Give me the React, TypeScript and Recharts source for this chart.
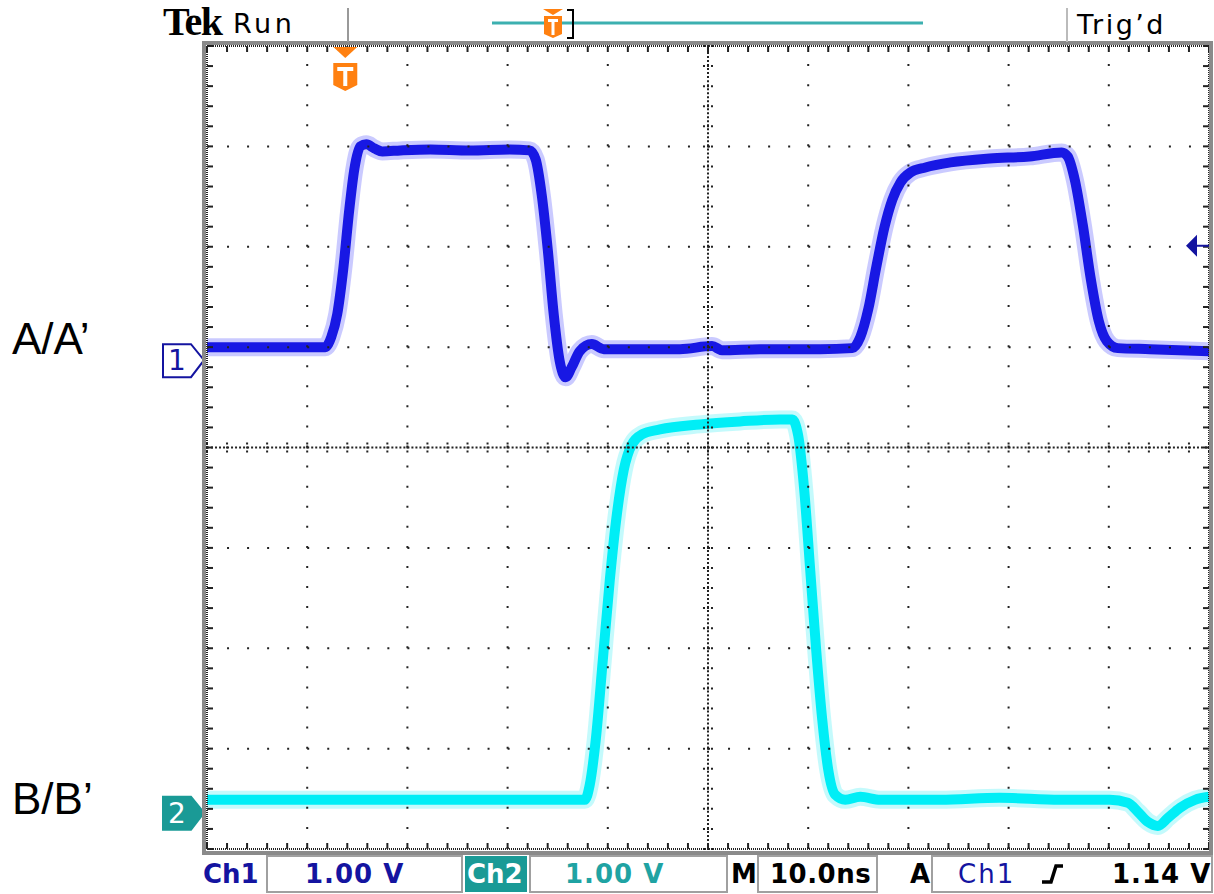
import React from "react";
import { LineChart, Line, XAxis, YAxis, ReferenceLine, ReferenceDot } from "recharts";

// time in ns (10 ns/div, screen centre = 0), voltages in V (1.00 V/div)
const ch1Time = [-50, -38.2, -37.6, -37.0, -36.4, -35.8, -35.3, -34.7, -34.1, -33.3, -32.5, -30.7, -27.7, -23.8, -19.8, -17.8, -17.2, -16.6, -16.0, -15.4, -14.8, -14.2, -13.6, -12.8, -11.6, -10.4, -7.8, -2.8, 0.4, 1.4, 5.2, 11.2, 14.4, 15.2, 16.0, 16.8, 17.6, 18.4, 19.2, 20.2, 21.7, 24.2, 28.1, 32.1, 35.3, 35.9, 36.6, 37.4, 38.2, 39.0, 39.8, 40.9, 44.1, 50];
const ch1Volts = [0.13, 0.13, 0.23, 0.46, 0.91, 1.50, 1.90, 2.13, 2.15, 2.11, 2.08, 2.09, 2.10, 2.09, 2.10, 2.09, 2.00, 1.65, 1.11, 0.46, -0.01, -0.17, -0.07, 0.09, 0.16, 0.11, 0.11, 0.11, 0.14, 0.10, 0.11, 0.11, 0.12, 0.23, 0.51, 0.93, 1.32, 1.60, 1.77, 1.87, 1.92, 1.97, 2.01, 2.03, 2.07, 2.03, 1.80, 1.35, 0.81, 0.39, 0.19, 0.12, 0.11, 0.09];
const ch2Time = [-50, -12.3, -11.8, -11.2, -10.5, -9.8, -9.1, -8.4, -7.6, -6.6, -4.8, -0.8, 3.2, 7.2, 8.4, 9.0, 9.6, 10.2, 10.8, 11.4, 12.0, 12.7, 13.7, 15.2, 17.2, 23.2, 29.1, 35.1, 40.1, 41.9, 42.9, 43.9, 44.9, 45.9, 47.1, 48.6, 50];
const ch2Volts = [0.13, 0.13, 0.28, 0.73, 1.52, 2.32, 2.97, 3.42, 3.67, 3.77, 3.82, 3.87, 3.90, 3.92, 3.92, 3.76, 3.22, 2.42, 1.62, 0.93, 0.43, 0.18, 0.13, 0.16, 0.13, 0.13, 0.15, 0.13, 0.13, 0.10, 0.01, -0.09, -0.13, -0.05, 0.05, 0.13, 0.16];

const CH1_GROUND_DIV = 0.87;
const CH2_GROUND_DIV = -3.64;
const TRIGGER_TIME = -36.2;
const TRIGGER_LEVEL = 1.14;

const timeDomain = [-50, 50];
const divDomain = [-4, 4];
const majorTimeLines = [-40, -30, -20, -10, 10, 20, 30, 40];
const majorDivLines = [-3, -2, -1, 1, 2, 3];

const minorTimes = Array.from({ length: 51 }, (_, i) => -50 + i * 2);
const minorDivs = Array.from({ length: 41 }, (_, i) => -4 + i * 0.2);

const ch1Data = ch1Time.map((t, i) => ({ t, v: CH1_GROUND_DIV + ch1Volts[i] }));
const ch2Data = ch2Time.map((t, i) => ({ t, v: CH2_GROUND_DIV + ch2Volts[i] }));

const BLUE = "#1818e4";
const BLUE_HALO = "#7a7aff";
const CYAN = "#00eef6";
const CYAN_HALO = "#8af6fa";
const NAVY = "#1414a0";
const TEAL = "#1a9a96";
const ORANGE = "#ff8010";
const GRID = "#222";

const TMarker = (p: any) => {
  const { cx, cy } = p;
  return (
    <g>
      <path d={`M${cx - 12},${cy + 1} L${cx + 12},${cy + 1} L${cx},${cy + 12} Z`} fill={ORANGE} />
      <path d={`M${cx - 12},${cy + 17} L${cx + 12},${cy + 17} L${cx + 12},${cy + 39} L${cx},${cy + 45} L${cx - 12},${cy + 39} Z`} fill={ORANGE} />
      <path d={`M${cx - 8},${cy + 21} L${cx + 8},${cy + 21} L${cx + 8},${cy + 25} L${cx + 2},${cy + 25} L${cx + 2},${cy + 40} L${cx - 2},${cy + 40} L${cx - 2},${cy + 25} L${cx - 8},${cy + 25} Z`} fill="#fff" />
    </g>
  );
};

const ChMarker = (p: any, label: string, filled: boolean) => {
  const { cx, cy } = p;
  const d = `M${cx - 44},${cy - 16} L${cx - 16},${cy - 16} L${cx - 3},${cy} L${cx - 16},${cy + 17} L${cx - 44},${cy + 17} Z`;
  return (
    <g>
      <path d={d} fill={filled ? TEAL : "#fff"} stroke={filled ? TEAL : NAVY} strokeWidth={2} />
      <text x={cx - 30} y={cy + 10} textAnchor="middle" fontFamily="DejaVu Sans" fontSize={28} fill={filled ? "#fff" : NAVY}>
        {label}
      </text>
    </g>
  );
};

const LevelArrow = (p: any) => {
  const { cx, cy } = p;
  return (
    <g>
      <path d={`M${cx - 23},${cy} L${cx - 12},${cy - 11} L${cx - 12},${cy + 11} Z`} fill={NAVY} />
      <line x1={cx - 13} y1={cy} x2={cx} y2={cy} stroke={NAVY} strokeWidth={2} />
    </g>
  );
};

export default function App() {
  const barFont = "DejaVu Sans";
  return (
    <div style={{ position: "absolute", left: 0, top: 0, width: 1214, height: 894, background: "#fff", overflow: "hidden" }}>
      <div style={{ position: "absolute", left: 0, top: 0 }}>
        <LineChart width={1214} height={894} margin={{ top: 46, right: 5, bottom: 45, left: 207 }}>
          <XAxis dataKey="t" type="number" domain={timeDomain} hide allowDataOverflow />
          <YAxis type="number" domain={divDomain} hide allowDataOverflow />
          <Line data={ch1Data} dataKey="v" type="monotone" stroke={BLUE_HALO} strokeOpacity={0.4} strokeWidth={18} dot={false} isAnimationActive={false} />
          <Line data={ch1Data} dataKey="v" type="monotone" stroke={BLUE} strokeWidth={10} dot={false} isAnimationActive={false} />
          <Line data={ch2Data} dataKey="v" type="monotone" stroke={CYAN_HALO} strokeOpacity={0.5} strokeWidth={18} dot={false} isAnimationActive={false} />
          <Line data={ch2Data} dataKey="v" type="monotone" stroke={CYAN} strokeWidth={10} dot={false} isAnimationActive={false} />

          {majorTimeLines.map((t) => (
            <ReferenceLine key={"vx" + t} x={t} stroke={GRID} strokeWidth={2} strokeDasharray="2 18.075" />
          ))}
          {majorDivLines.map((d) => (
            <ReferenceLine key={"hy" + d} y={d} stroke={GRID} strokeWidth={2} strokeDasharray="2 18.04" />
          ))}
          <ReferenceLine x={0} stroke={GRID} strokeWidth={2} strokeDasharray="2 2.015" />
          <ReferenceLine y={0} stroke={GRID} strokeWidth={2} strokeDasharray="2 2.008" />
          <ReferenceLine x={-50} stroke={GRID} strokeWidth={2} strokeDasharray="1 1" />
          <ReferenceLine x={50} stroke={GRID} strokeWidth={2} strokeDasharray="1 1" />
          <ReferenceLine y={-4} stroke={GRID} strokeWidth={2} strokeDasharray="1 1" />
          <ReferenceLine y={4} stroke={GRID} strokeWidth={2} strokeDasharray="1 1" />

          {minorTimes.map((t) => (
            <ReferenceLine key={"tt" + t} segment={[{ x: t, y: 4 }, { x: t, y: 3.94 }]} stroke={GRID} strokeWidth={2} />
          ))}
          {minorTimes.map((t) => (
            <ReferenceLine key={"tb" + t} segment={[{ x: t, y: -4 }, { x: t, y: -3.94 }]} stroke={GRID} strokeWidth={2} />
          ))}
          {minorTimes.map((t) => (
            <ReferenceLine key={"tc" + t} segment={[{ x: t, y: -0.05 }, { x: t, y: 0.05 }]} stroke={GRID} strokeWidth={2} strokeDasharray="2 2" />
          ))}
          {minorDivs.map((d) => (
            <ReferenceLine key={"dl" + d} segment={[{ x: -50, y: d }, { x: -49.4, y: d }]} stroke={GRID} strokeWidth={2} />
          ))}
          {minorDivs.map((d) => (
            <ReferenceLine key={"dr" + d} segment={[{ x: 50, y: d }, { x: 49.4, y: d }]} stroke={GRID} strokeWidth={2} />
          ))}
          {minorDivs.map((d) => (
            <ReferenceLine key={"dc" + d} segment={[{ x: -0.5, y: d }, { x: 0.5, y: d }]} stroke={GRID} strokeWidth={2} strokeDasharray="2 2" />
          ))}

          <ReferenceDot x={TRIGGER_TIME} y={4} ifOverflow="visible" shape={(p: any) => <TMarker {...p} />} />
          <ReferenceDot x={-50} y={CH1_GROUND_DIV} ifOverflow="visible" shape={(p: any) => ChMarker(p, "1", false)} />
          <ReferenceDot x={-50} y={CH2_GROUND_DIV} ifOverflow="visible" shape={(p: any) => ChMarker(p, "2", true)} />
          <ReferenceDot x={50} y={CH1_GROUND_DIV + TRIGGER_LEVEL} ifOverflow="visible" shape={(p: any) => <LevelArrow {...p} />} />
        </LineChart>
      </div>

      {/* graticule frame */}
      <div style={{ position: "absolute", left: 202, top: 41, width: 1003, height: 806, border: "4px solid #8a8a8a", pointerEvents: "none" }} />

      <svg width={1214} height={894} style={{ position: "absolute", left: 0, top: 0, pointerEvents: "none" }}>
        {/* top status bar */}
        <text x={163} y={35} fontFamily="Liberation Serif" fontWeight="bold" fontSize={40} letterSpacing={-1.5} fill="#000">Tek</text>
        <text x={233} y={33} fontFamily="DejaVu Sans" fontSize={27} letterSpacing={3.5} fill="#000">Run</text>
        <line x1={348} y1={8} x2={348} y2={42} stroke="#999" strokeWidth={2} />
        <line x1={492} y1={23} x2={923} y2={23} stroke="#3cb0b0" strokeWidth={3} />
        <path d="M543,9 L563,9 L553,15 Z" fill={ORANGE} />
        <path d="M544,16 L562,16 L562,34 L553,38 L544,34 Z" fill={ORANGE} />
        <path d="M548,19 L558,19 L558,22 L554.5,22 L554.5,35 L551.5,35 L551.5,22 L548,22 Z" fill="#fff" />
        <path d="M567,10 L573,10 L573,38 L567,38" fill="none" stroke="#000" strokeWidth={2} />
        <line x1={1067} y1={8} x2={1067} y2={42} stroke="#bbb" strokeWidth={2} />
        <text x={1077} y={34} fontFamily="DejaVu Sans" fontSize={27} letterSpacing={2.5} fill="#000">Trig’d</text>

        {/* side labels */}
        <text x={12} y={354} fontFamily="Liberation Sans" fontSize={44} fill="#000">A/A’</text>
        <text x={12} y={814} fontFamily="Liberation Sans" fontSize={44} fill="#000">B/B’</text>

        {/* bottom status bar */}
        <text x={203} y={883} fontFamily={barFont} fontWeight="bold" fontSize={26} fill={NAVY}>Ch1</text>
        <rect x={267} y={856} width={195} height={36} fill="none" stroke="#a0a0a0" strokeWidth={2} />
        <text x={305} y={883} fontFamily={barFont} fontWeight="bold" fontSize={26} letterSpacing={1} fill={NAVY}>1.00 V</text>
        <rect x={465} y={856} width={62} height={36} fill={TEAL} />
        <text x={467} y={883} fontFamily={barFont} fontWeight="bold" fontSize={26} fill="#fff">Ch2</text>
        <rect x={530} y={856} width={197} height={36} fill="none" stroke="#a0a0a0" strokeWidth={2} />
        <text x={565} y={883} fontFamily={barFont} fontWeight="bold" fontSize={26} letterSpacing={1} fill="#1fa3a3">1.00 V</text>
        <text x={731} y={883} fontFamily={barFont} fontWeight="bold" fontSize={26} fill="#000">M</text>
        <rect x={758} y={856} width={119} height={36} fill="none" stroke="#a0a0a0" strokeWidth={2} />
        <text x={770} y={883} fontFamily={barFont} fontWeight="bold" fontSize={26} letterSpacing={0.5} fill="#000">10.0ns</text>
        <text x={910} y={883} fontFamily={barFont} fontWeight="bold" fontSize={26} fill="#000">A</text>
        <rect x={932} y={856} width={280} height={36} fill="none" stroke="#a0a0a0" strokeWidth={2} />
        <text x={958} y={883} fontFamily={barFont} fontSize={26} letterSpacing={2} fill={NAVY}>Ch1</text>
        <path d="M1042,882 L1051,882 L1056,866 L1063,866" fill="none" stroke="#000" strokeWidth={3.5} />
        <text x={1112} y={883} fontFamily={barFont} fontWeight="bold" fontSize={26} letterSpacing={1} fill="#000">1.14 V</text>
      </svg>
    </div>
  );
}
